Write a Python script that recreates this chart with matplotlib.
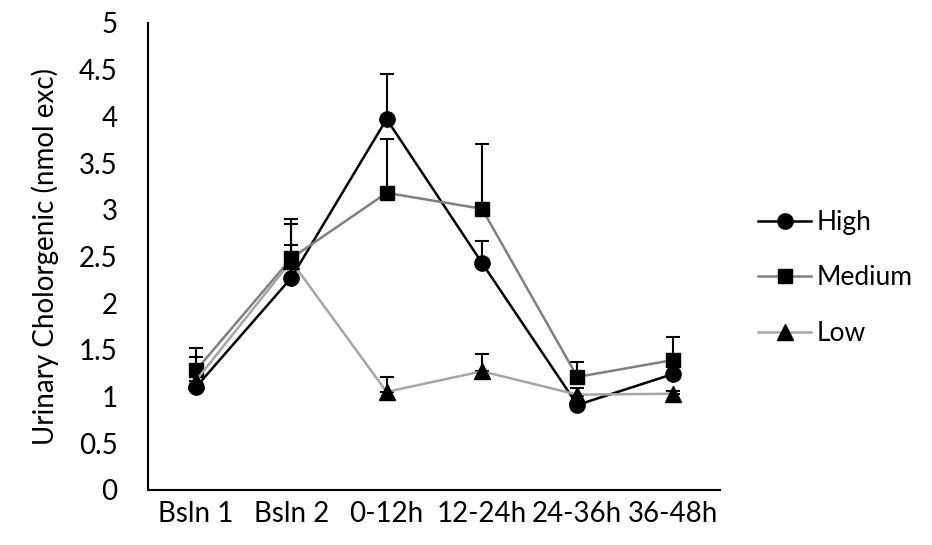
import numpy as np
import matplotlib
matplotlib.use("Agg")
import matplotlib.pyplot as plt

plt.rcParams['font.family'] = ['Lato', 'DejaVu Sans']

# data
periods = ["Bsln 1", "Bsln 2", "0-12h", "12-24h", "24-36h", "36-48h"]
high = [1.10, 2.27, 3.97, 2.43, 0.91, 1.24]
high_err = [0.18, 0.35, 0.48, 0.24, 0.10, 0.08]
medium = [1.28, 2.48, 3.18, 3.01, 1.21, 1.39]
medium_err = [0.24, 0.42, 0.58, 0.69, 0.16, 0.25]
low = [1.17, 2.45, 1.05, 1.27, 1.02, 1.03]
low_err = [0.25, 0.40, 0.16, 0.19, 0.07, 0.03]

fig = plt.figure(figsize=(9.32, 5.45), dpi=100)
ax = fig.add_axes([0.159, 0.101, 0.614, 0.857])

x = np.arange(len(periods))
series = [
    ("High", high, high_err, "#000000", "o", 11),
    ("Medium", medium, medium_err, "#808080", "s", 9.5),
    ("Low", low, low_err, "#a6a6a6", "^", 11),
]
handles = []
for name, vals, err, col, mk, ms in series:
    ax.errorbar(x, vals, yerr=[np.zeros(len(err)), err], fmt="none",
                ecolor="black", elinewidth=1.5, capsize=5, capthick=1.5, zorder=2)
    h, = ax.plot(x, vals, color=col, lw=1.8, marker=mk, ms=ms,
                 mfc="black", mec="black", label=name, zorder=3)
    handles.append(h)

ax.set_xlim(-0.5, len(periods) - 0.5)
ax.set_ylim(0, 5)
ax.set_yticks(np.arange(0, 5.01, 0.5))
ax.set_yticklabels(["0", "0.5", "1", "1.5", "2", "2.5", "3", "3.5", "4", "4.5", "5"])
ax.set_xticks(x)
ax.set_xticklabels(periods)
ax.tick_params(axis="both", length=0, labelsize=20, colors="black")
ax.tick_params(axis="x", pad=8)
ax.tick_params(axis="y", pad=22)
for s in ["top", "right"]:
    ax.spines[s].set_visible(False)
for s in ["left", "bottom"]:
    ax.spines[s].set_linewidth(1.5)
ax.set_ylabel("Urinary Cholorgenic (nmol exc)", fontsize=20, labelpad=14)

fig.legend(handles=handles, loc="center left", bbox_to_anchor=(0.788, 0.49),
           frameon=False, fontsize=19, handlelength=2.0, handletextpad=0.2,
           labelspacing=1.15)

fig.savefig("out.png", dpi=100)
